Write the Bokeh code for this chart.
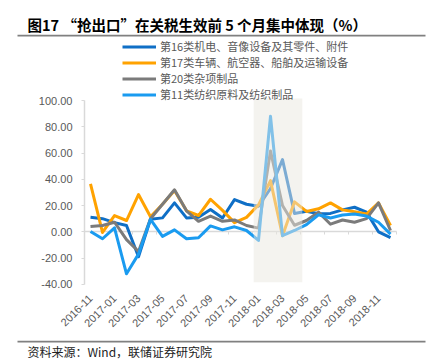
import math
from bokeh.plotting import figure
from bokeh.models import (Range1d, FixedTicker, LinearAxis, NumeralTickFormatter,
                          Legend, LegendItem, Label)
from bokeh.embed import file_html
from bokeh.resources import INLINE

months = ["2016-11", "2016-12", "2017-01", "2017-02", "2017-03", "2017-04",
          "2017-05", "2017-06", "2017-07", "2017-08", "2017-09", "2017-10",
          "2017-11", "2017-12", "2018-01", "2018-02", "2018-03", "2018-04",
          "2018-05", "2018-06", "2018-07", "2018-08", "2018-09", "2018-10",
          "2018-11", "2018-12"]

s16 = [11, 10, 7, 4.8, -19, 9.6, 10.6, 22, 10.6, 11, 17, 10.5, 24.5, 21,
       19.5, 33, 55, 14, 15.7, 13.7, 14, 16.7, 18.7, 15, 0, -4.5]
s17 = [36.5, -0.5, 12.4, 8.6, 28.4, 11.5, 21, 31.5, 16, 12.4, 24.8, 16.3, 7,
       11, 20.5, 39, -3, 22.8, 15.5, 17.5, 22, 16.7, 15.3, 13.5, 22, 4.8]
s20 = [4, 4.8, 7.3, -6, -15, 10, 21, 32, 16, 8, 12, 8, 9, 4.8, 2.8, 61.5, 20,
       5, 8.6, 15, 5.8, 9, 7.3, 10, 22, 1]
s11 = [0.3, -5.3, 3, -32, -17, 9.5, -3.5, 1.5, -5.3, -4.5, 4.5, 1.5, 3.8, 1,
       -6.6, 88, -3, 1, 5.5, 13, 10.5, 12.8, 13.5, 12, 7.3, -1.8]

names = ["第16类机电、音像设备及其零件、附件",
         "第17类车辆、航空器、船舶及运输设备",
         "第20类杂项制品",
         "第11类纺织原料及纺织制品"]
colors = ["#0F6FC6", "#FFA200", "#7B7B7B", "#1A9BF0"]

y_ticks = [-40, -20, 0, 20, 40, 60, 80, 100]
shade_start, shade_end = 13.6, 17.65

title_text = "图17 “抢出口”在关税生效前 5 个月集中体现（%）"
source_text = "资料来源：Wind，联储证券研究院"

W, H = 429, 363
# frame spans whole canvas; place plot area via ranges
px_x = 12.0          # pixels per category
px_y = 1.313         # pixels per percentage point
left_px, zero_px = 84, 231.3
n = len(months)
x0 = -0.5 - left_px / px_x
x1 = x0 + W / px_x
y1 = zero_px / px_y
y0 = y1 - H / px_y


def sx(px):
    return x0 + px / px_x


def sy(py):
    return y1 - py / px_y


x = list(range(n))

p = figure(width=W, height=H, output_backend="svg", toolbar_location=None,
           x_range=Range1d(x0, x1), y_range=Range1d(y0, y1),
           x_axis_location=None, y_axis_location=None,
           min_border=0, outline_line_color=None)
p.title.visible = False
p.xgrid.visible = False
p.ygrid.visible = False

# y axis
ya = LinearAxis(fixed_location=-0.5, ticker=FixedTicker(ticks=y_ticks),
                formatter=NumeralTickFormatter(format="0.00"),
                bounds=(y_ticks[0], y_ticks[-1]),
                major_label_text_font_size="11px",
                major_label_text_color="#595959",
                major_label_text_font="Liberation Sans",
                axis_line_color="#d9d9d9", axis_line_width=1.5,
                major_tick_line_color="#d9d9d9", major_tick_in=0,
                major_tick_out=3, minor_tick_line_color=None,
                major_label_standoff=9)
p.add_layout(ya, "left")

# zero-line axis with ticks between categories
zero_ticks = [k - 0.5 for k in range(0, n + 1, 2)]
za = LinearAxis(fixed_location=0, ticker=FixedTicker(ticks=zero_ticks),
                bounds=(-0.5, n - 0.5),
                major_label_overrides={t: "" for t in zero_ticks},
                axis_line_color="#d9d9d9", axis_line_width=1.5,
                major_tick_line_color="#d9d9d9", major_tick_in=0,
                major_tick_out=3, minor_tick_line_color=None,
                major_label_text_font_size="1px", level="underlay")
p.add_layout(za, "below")

# category labels at the bottom of the plot area
label_ticks = list(range(0, n, 2))
xa = LinearAxis(fixed_location=y_ticks[0], ticker=FixedTicker(ticks=label_ticks),
                major_label_overrides={k: months[k] for k in label_ticks},
                major_label_orientation=math.pi / 4,
                axis_line_color=None, major_tick_line_color=None,
                minor_tick_line_color=None,
                major_label_text_font_size="11px",
                major_label_text_color="#595959",
                major_label_text_font="Liberation Sans",
                major_label_standoff=6)
p.add_layout(xa, "below")

renderers = []
for ser, col in zip([s16, s17, s20, s11], colors):
    r = p.line(x, ser, line_color=col, line_width=3, line_join="round")
    renderers.append(r)

# highlighted window (drawn on top, fading the lines)
p.quad(left=shade_start, right=shade_end, bottom=-38.5, top=101.5,
       fill_color="#e9e7df", fill_alpha=0.5, line_color=None)

# horizontal rules under the title and above the source note (thin filled bands)
p.quad(left=[sx(17), sx(17)], right=[sx(425), sx(425)],
       bottom=[sy(36), sy(342)], top=[sy(34.3), sy(340.3)],
       fill_color="#808080", fill_alpha=1.0, line_color=None)

legend = Legend(items=[LegendItem(label=nm, renderers=[r]) for nm, r in zip(names, renderers)],
                location=(122, H - 102), orientation="vertical",
                glyph_width=34, glyph_height=13, label_height=13, spacing=-1,
                padding=0, margin=0, label_standoff=4,
                label_text_font_size="11px", label_text_color="#595959",
                label_text_font="Noto Sans CJK SC",
                border_line_color=None, background_fill_alpha=0)
p.add_layout(legend, "center")

p.add_layout(Label(x=27, y=H - 23.5, x_units="screen", y_units="screen",
                   text=title_text, text_font_size="14.5px", text_font_style="bold",
                   text_font="Noto Sans CJK SC", text_color="#000000",
                   text_baseline="middle", text_align="left"))
p.add_layout(Label(x=27, y=H - 351, x_units="screen", y_units="screen",
                   text=source_text, text_font_size="12px",
                   text_font="Noto Sans CJK SC", text_color="#222222",
                   text_baseline="middle", text_align="left"))

open("out.html", "w").write(file_html(p, INLINE))
